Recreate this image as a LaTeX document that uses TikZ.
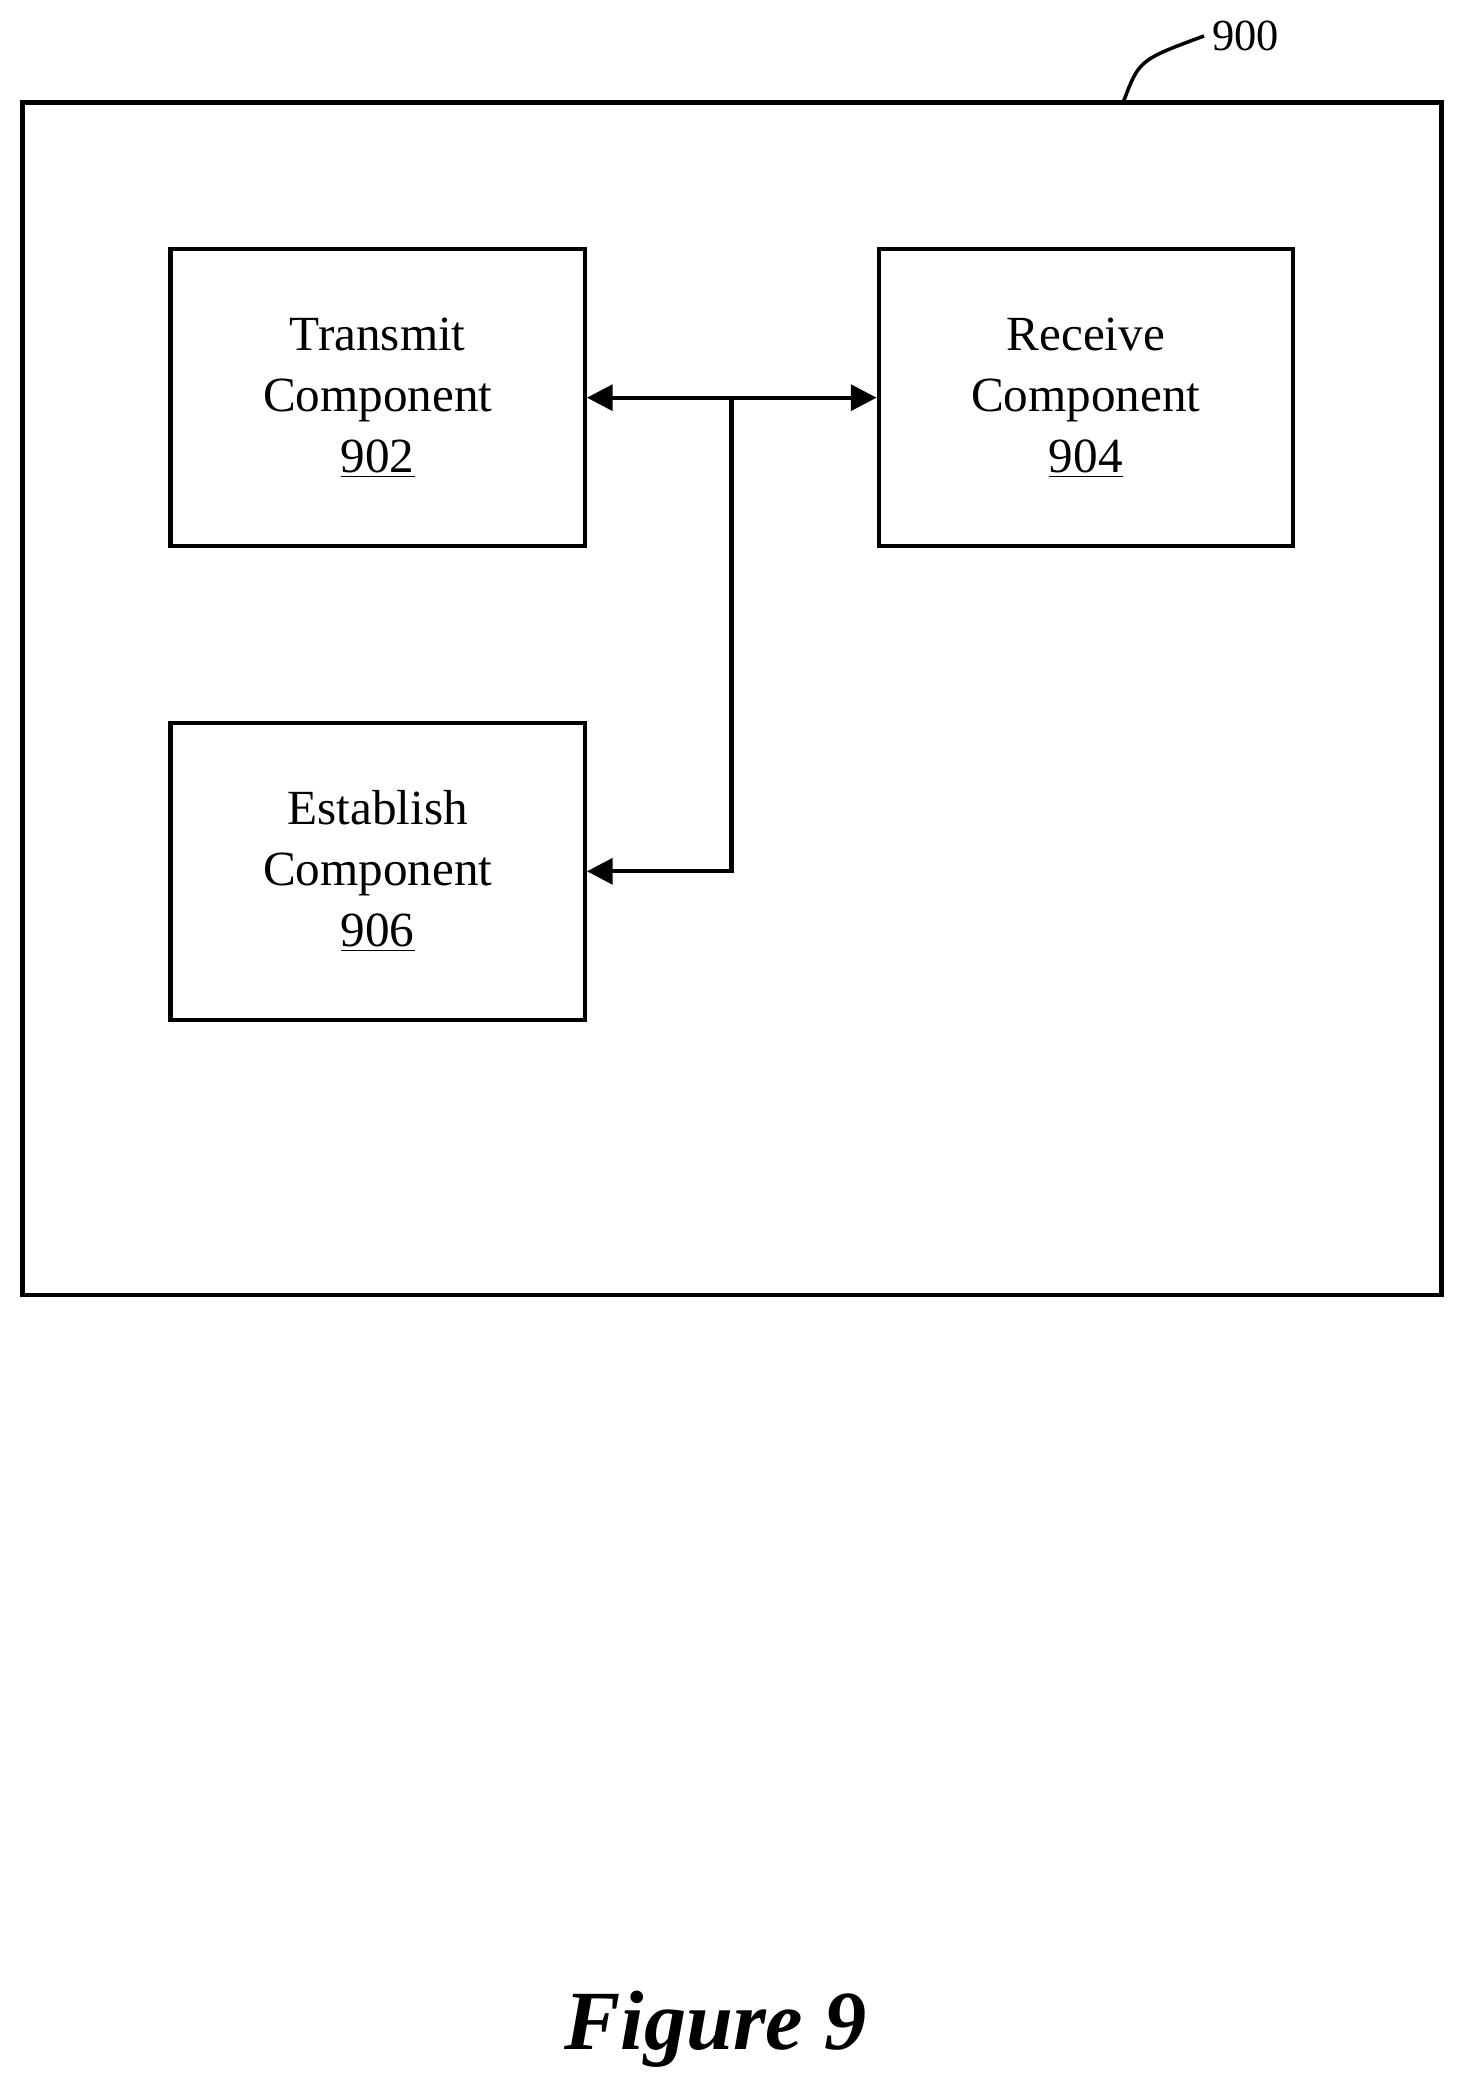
\documentclass[tikz,border=0pt]{standalone}
\usepackage{fontspec}
\setmainfont{Liberation Serif}
\usetikzlibrary{positioning,arrows.meta}
\begin{document}
\begin{tikzpicture}[
    x=0.02cm, y=-0.02cm,
    comp/.style={rectangle, draw, line width=1.8pt, minimum width=6.22cm, minimum height=4.46cm, align=center, font=\fontsize{21}{26}\selectfont},
    arrow/.style={-{Triangle[length=11pt,width=11pt]}, line width=1.8pt},
    ref/.style={font=\fontsize{19}{22}\selectfont}
]
    \useasboundingbox (0,0) rectangle (1100,1568);
    % Outer system box
    \draw[line width=2pt] (17,77) rectangle (1082,972);
    \node[ref] (num) at (935,27) {900};
    \coordinate (tick) at (843,77);
    \draw[line width=1.5pt] (tick) .. controls (855,45) .. (num.west);

    % Components
    \node[comp] (transmit) at (283.5,298.5) {Transmit\\Component\\\underline{902}};
    \node[comp] (receive) at (815,298.5) {Receive\\Component\\\underline{904}};
    \node[comp] (establish) at (283.5,654) {Establish\\Component\\\underline{906}};

    % Bus
    \coordinate (bus) at (549,298.5);
    \coordinate (busdown) at (549,654);
    \draw[arrow] (bus) -- (transmit.east);
    \draw[arrow] (bus) -- (receive.west);
    \draw[arrow] (bus) -- (busdown) -- (establish.east);

    % Caption
    \node[font=\fontsize{36}{40}\selectfont\bfseries\itshape] (caption) at (537,1523) {Figure 9};
\end{tikzpicture}
\end{document}
